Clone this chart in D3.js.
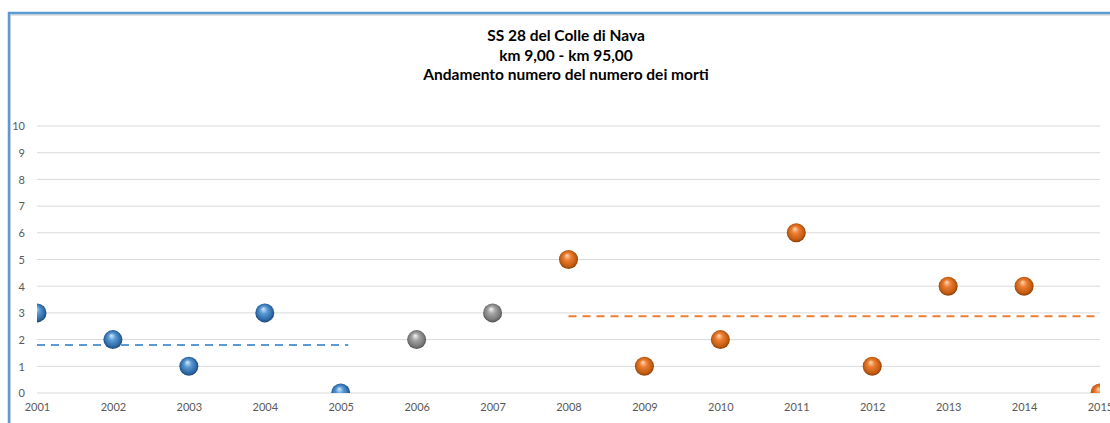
<!DOCTYPE html>
<html lang="it">
<head>
  <meta charset="UTF-8" />
  <title>SS 28 del Colle di Nava</title>
  <script src="https://d3js.org/d3.v7.min.js"></script>
  <style>
    body {
      margin: 0;
      background: #ffffff;
      font-family: "Lato", "Open Sans", sans-serif;
    }
    .tick text {
      fill: #595959;
      font-size: 11px;
      font-family: "Lato", sans-serif;
    }
  </style>
</head>
<body>
  <svg id="chart" width="1110" height="423"></svg>
  <script>
    // dati
    const titleLines = ["SS 28 del Colle di Nava", "km 9,00 - km 95,00", "Andamento numero del numero dei morti"];
    const yTicks = [0, 1, 2, 3, 4, 5, 6, 7, 8, 9, 10];
    const xTicks = [2001, 2002, 2003, 2004, 2005, 2006, 2007, 2008, 2009, 2010, 2011, 2012, 2013, 2014, 2015];
    const bluePoints = [[2001, 3], [2002, 2], [2003, 1], [2004, 3], [2005, 0]];
    const grayPoints = [[2006, 2], [2007, 3]];
    const orangePoints = [[2008, 5], [2009, 1], [2010, 2], [2011, 6], [2012, 1], [2013, 4], [2014, 4], [2015, 0]];
    const blueMean = { from: 2001, to: 2005.1, value: 1.8 };
    const orangeMean = { from: 2008, to: 2015, value: 2.875 };

    const W = 1110, H = 423;
    const plot = { left: 37, right: 1100, top: 126, bottom: 393 };

    const svg = d3.select("#chart");

    // cornice del grafico
    svg.append("rect").attr("x", 10).attr("y", 15).attr("width", W + 10).attr("height", H)
      .attr("fill", "none").attr("stroke", "#d9d9d9").attr("stroke-width", 1.5);
    svg.append("rect").attr("x", 9).attr("y", 13).attr("width", W + 10).attr("height", H)
      .attr("fill", "none").attr("stroke", "#5b9bd5").attr("stroke-width", 2.5);

    const x = d3.scaleLinear().domain([2001, 2015]).range([plot.left, plot.right]);
    const y = d3.scaleLinear().domain([0, 10]).range([plot.bottom, plot.top]);

    // griglia
    svg.append("g").selectAll("line").data(yTicks).join("line")
      .attr("x1", plot.left).attr("x2", plot.right)
      .attr("y1", d => y(d)).attr("y2", d => y(d))
      .attr("stroke", "#d9d9d9").attr("stroke-width", 1);

    // assi
    const yAxis = svg.append("g").attr("transform", `translate(${plot.left - 12},0)`)
      .call(d3.axisLeft(y).tickValues(yTicks).tickSize(0).tickPadding(0));
    yAxis.select(".domain").remove();
    yAxis.selectAll("text").attr("text-anchor", "end").attr("dy", "0.35em");

    const xAxis = svg.append("g").attr("transform", `translate(0,${plot.bottom})`)
      .call(d3.axisBottom(x).tickValues(xTicks).tickFormat(d3.format("d")).tickSize(0).tickPadding(10));
    xAxis.select(".domain").remove();

    // titolo
    svg.append("text").attr("x", 566).attr("y", 41).attr("text-anchor", "middle")
      .style("font-size", "15.5px").style("font-weight", "bold").attr("fill", "#000")
      .selectAll("tspan").data(titleLines).join("tspan")
      .attr("x", 566).attr("dy", (d, i) => i === 0 ? 0 : 19.5).text(d => d);

    // gradienti sferici
    const defs = svg.append("defs");
    const palettes = {
      blue: ["#d6ebfb", "#5b9bd5", "#2e6aa8", "#1a3f66"],
      gray: ["#f7f7f7", "#a5a5a5", "#7a7a7a", "#444444"],
      orange: ["#fdd9b8", "#ed7d31", "#c45d12", "#7a3506"]
    };
    Object.entries(palettes).forEach(([name, c]) => {
      const g = defs.append("radialGradient").attr("id", "sphere-" + name)
        .attr("cx", "50%").attr("cy", "50%").attr("r", "55%")
        .attr("fx", "42%").attr("fy", "28%");
      g.append("stop").attr("offset", "0%").attr("stop-color", c[0]);
      g.append("stop").attr("offset", "35%").attr("stop-color", c[1]);
      g.append("stop").attr("offset", "75%").attr("stop-color", c[2]);
      g.append("stop").attr("offset", "100%").attr("stop-color", c[3]);
    });

    defs.append("clipPath").attr("id", "plot-clip").append("rect")
      .attr("x", plot.left).attr("y", plot.top - 12)
      .attr("width", plot.right - plot.left).attr("height", plot.bottom - plot.top + 12);

    const area = svg.append("g").attr("clip-path", "url(#plot-clip)");

    // linee della media
    [[blueMean, "#5b9bd5"], [orangeMean, "#ed7d31"]].forEach(([m, col]) => {
      area.append("line")
        .attr("x1", x(m.from)).attr("x2", x(m.to))
        .attr("y1", y(m.value)).attr("y2", y(m.value))
        .attr("stroke", col).attr("stroke-width", 2).attr("stroke-dasharray", "8,6");
    });

    // punti
    [[bluePoints, "blue"], [grayPoints, "gray"], [orangePoints, "orange"]].forEach(([pts, name]) => {
      area.append("g").selectAll("circle").data(pts).join("circle")
        .attr("cx", d => x(d[0])).attr("cy", d => y(d[1])).attr("r", 9.5)
        .attr("fill", `url(#sphere-${name})`);
    });
  </script>
</body>
</html>
